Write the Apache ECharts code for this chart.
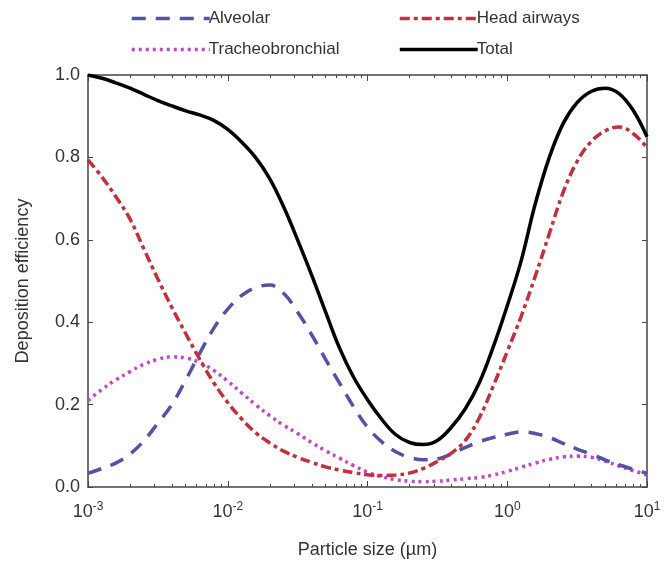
<!DOCTYPE html>
<html>
<head>
<meta charset="utf-8">
<script src="https://cdn.jsdelivr.net/npm/echarts@6/dist/echarts.min.js"></script>
<style>
  html, body { margin: 0; padding: 0; background: #fff; }
  #chart { width: 664px; height: 567px; }
</style>
</head>
<body>
<div id="chart"></div>
<script>
// particle size (um), 10 points per decade
const sizes = [
  0.001, 0.00126, 0.00158, 0.002, 0.00251, 0.00316, 0.00398, 0.00501, 0.00631, 0.00794,
  0.01, 0.0126, 0.0158, 0.02, 0.0251, 0.0316, 0.0398, 0.0501, 0.0631, 0.0794,
  0.1, 0.126, 0.158, 0.2, 0.251, 0.316, 0.398, 0.501, 0.631, 0.794,
  1, 1.26, 1.58, 2, 2.51, 3.16, 3.98, 5.01, 6.31, 7.94, 10
];

const alveolar = [
  0.033, 0.045, 0.058, 0.08, 0.112, 0.155, 0.20, 0.26, 0.325, 0.385,
  0.432, 0.465, 0.484, 0.49, 0.47, 0.425, 0.37, 0.31, 0.252, 0.195,
  0.145, 0.11, 0.086, 0.072, 0.066, 0.068, 0.08, 0.096, 0.11, 0.12,
  0.128, 0.134, 0.13, 0.12, 0.106, 0.092, 0.08, 0.066, 0.054, 0.043, 0.033
];

const headAirways = [
  0.794, 0.752, 0.705, 0.65, 0.578, 0.505, 0.436, 0.372, 0.31, 0.253,
  0.205, 0.165, 0.132, 0.107, 0.087, 0.072, 0.06, 0.049, 0.041, 0.035,
  0.03, 0.028, 0.029, 0.034, 0.045, 0.062, 0.082, 0.113, 0.168, 0.245,
  0.329, 0.415, 0.51, 0.615, 0.715, 0.79, 0.838, 0.864, 0.874, 0.858, 0.824
];

const tracheo = [
  0.21, 0.237, 0.26, 0.28, 0.298, 0.31, 0.316, 0.313, 0.302, 0.283,
  0.257, 0.228, 0.2, 0.173, 0.15, 0.13, 0.108, 0.088, 0.07, 0.052,
  0.036, 0.025, 0.018, 0.014, 0.013, 0.014, 0.017, 0.02, 0.023, 0.029,
  0.038, 0.048, 0.058, 0.067, 0.073, 0.075, 0.072, 0.063, 0.051, 0.04, 0.029
];

const total = [
  1.0, 0.992, 0.981, 0.968, 0.953, 0.938, 0.925, 0.913, 0.903, 0.89,
  0.868, 0.837, 0.80, 0.748, 0.68, 0.60, 0.515, 0.425, 0.337, 0.267,
  0.212, 0.165, 0.128, 0.108, 0.103, 0.113, 0.145, 0.19, 0.253, 0.34,
  0.44, 0.55, 0.685, 0.80, 0.882, 0.933, 0.96, 0.968, 0.955, 0.915, 0.85
];

const majorTicks = [0.001, 0.01, 0.1, 1, 10];
const tickExponents = ['-3', '-2', '-1', '0', '1'];
const minorTicks = [];
[0.001, 0.01, 0.1, 1].forEach(d => {
  for (let m = 2; m <= 9; m++) minorTicks.push(+(d * m).toPrecision(3));
});

const pairs = ys => sizes.map((x, i) => [x, ys[i]]);

const axisColor = '#444';
const textColor = '#333';
const font = 'Liberation Sans, Arial, sans-serif';

function logAxis(pos, ticks, len, opts) {
  return Object.assign({
    type: 'log',
    logBase: 10,
    position: pos,
    min: 0.001,
    max: 10,
    axisLine: { show: false },
    axisTick: { show: true, inside: true, length: len, customValues: ticks,
      lineStyle: { color: axisColor, width: 1 } },
    axisLabel: { show: false },
    splitLine: { show: false },
    minorTick: { show: false },
    minorSplitLine: { show: false }
  }, opts || {});
}

const legendBase = {
  orient: 'vertical',
  top: 5,
  itemWidth: 78,
  itemHeight: 14,
  itemGap: 14,
  itemStyle: { opacity: 0 },
  lineStyle: { width: 3.5 },
  textStyle: { fontSize: 17, color: textColor, padding: [0, 0, 0, -6] }
};

const chart = echarts.init(document.getElementById('chart'));

chart.setOption({
  animation: false,
  textStyle: { fontFamily: font },
  grid: { left: 88, right: 17, top: 75, bottom: 80 },
  legend: [
    Object.assign({ data: ['Alveolar', 'Tracheobronchial'], left: 125 }, legendBase),
    Object.assign({ data: ['Head airways', 'Total'], left: 393 }, legendBase)
  ],
  xAxis: [
    logAxis('bottom', majorTicks, 6, {
      axisLine: { show: true, lineStyle: { color: axisColor, width: 1.5 } },
      axisLabel: {
        show: true,
        customValues: majorTicks,
        margin: 14,
        formatter: v => {
          const i = majorTicks.findIndex(t => Math.abs(t - v) / t < 1e-6);
          return '{b|10}{s|' + tickExponents[i] + '}';
        },
        rich: {
          b: { fontSize: 18, color: textColor, fontFamily: font },
          s: { fontSize: 12, color: textColor, fontFamily: font, verticalAlign: 'bottom', padding: [0, 0, 10, 0] }
        }
      },
      name: 'Particle size (\u00b5m)',
      nameLocation: 'middle',
      nameGap: 54,
      nameTextStyle: { fontSize: 18, color: textColor }
    }),
    logAxis('bottom', minorTicks, 3),
    logAxis('top', majorTicks, 6, {
      axisLine: { show: true, lineStyle: { color: axisColor, width: 1.5 } }
    }),
    logAxis('top', minorTicks, 3)
  ],
  yAxis: [
    {
      type: 'value',
      position: 'left',
      min: 0,
      max: 1,
      interval: 0.2,
      axisLine: { show: true, lineStyle: { color: axisColor, width: 1.5 } },
      axisTick: { show: true, inside: true, length: 5, lineStyle: { color: axisColor } },
      axisLabel: { fontSize: 18, color: textColor, margin: 8, formatter: v => v.toFixed(1) },
      splitLine: { show: false },
      name: 'Deposition efficiency',
      nameLocation: 'middle',
      nameGap: 56,
      nameTextStyle: { fontSize: 18, color: textColor }
    },
    {
      type: 'value',
      position: 'right',
      min: 0,
      max: 1,
      interval: 0.2,
      axisLine: { show: true, lineStyle: { color: axisColor, width: 1.5 } },
      axisTick: { show: true, inside: true, length: 5, lineStyle: { color: axisColor } },
      axisLabel: { show: false },
      splitLine: { show: false }
    }
  ],
  series: [
    {
      name: 'Alveolar',
      type: 'line',
      data: pairs(alveolar),
      smooth: 0.4,
      showSymbol: false,
      symbol: 'none',
      color: '#5252a6',
      lineStyle: { width: 3.5, type: [14, 10], color: '#5252a6' },
      z: 3
    },
    {
      name: 'Head airways',
      type: 'line',
      data: pairs(headAirways),
      smooth: 0.4,
      showSymbol: false,
      symbol: 'none',
      color: '#c42f3c',
      lineStyle: { width: 3.5, type: [10, 4, 4, 4], color: '#c42f3c' },
      z: 4
    },
    {
      name: 'Tracheobronchial',
      type: 'line',
      data: pairs(tracheo),
      smooth: 0.4,
      showSymbol: false,
      symbol: 'none',
      color: '#c446c8',
      lineStyle: { width: 3.5, type: [3, 4], color: '#c446c8' },
      z: 2
    },
    {
      name: 'Total',
      type: 'line',
      data: pairs(total),
      smooth: 0.4,
      showSymbol: false,
      symbol: 'none',
      color: '#000',
      lineStyle: { width: 3.5, color: '#000' },
      z: 5
    }
  ]
});
</script>
</body>
</html>
